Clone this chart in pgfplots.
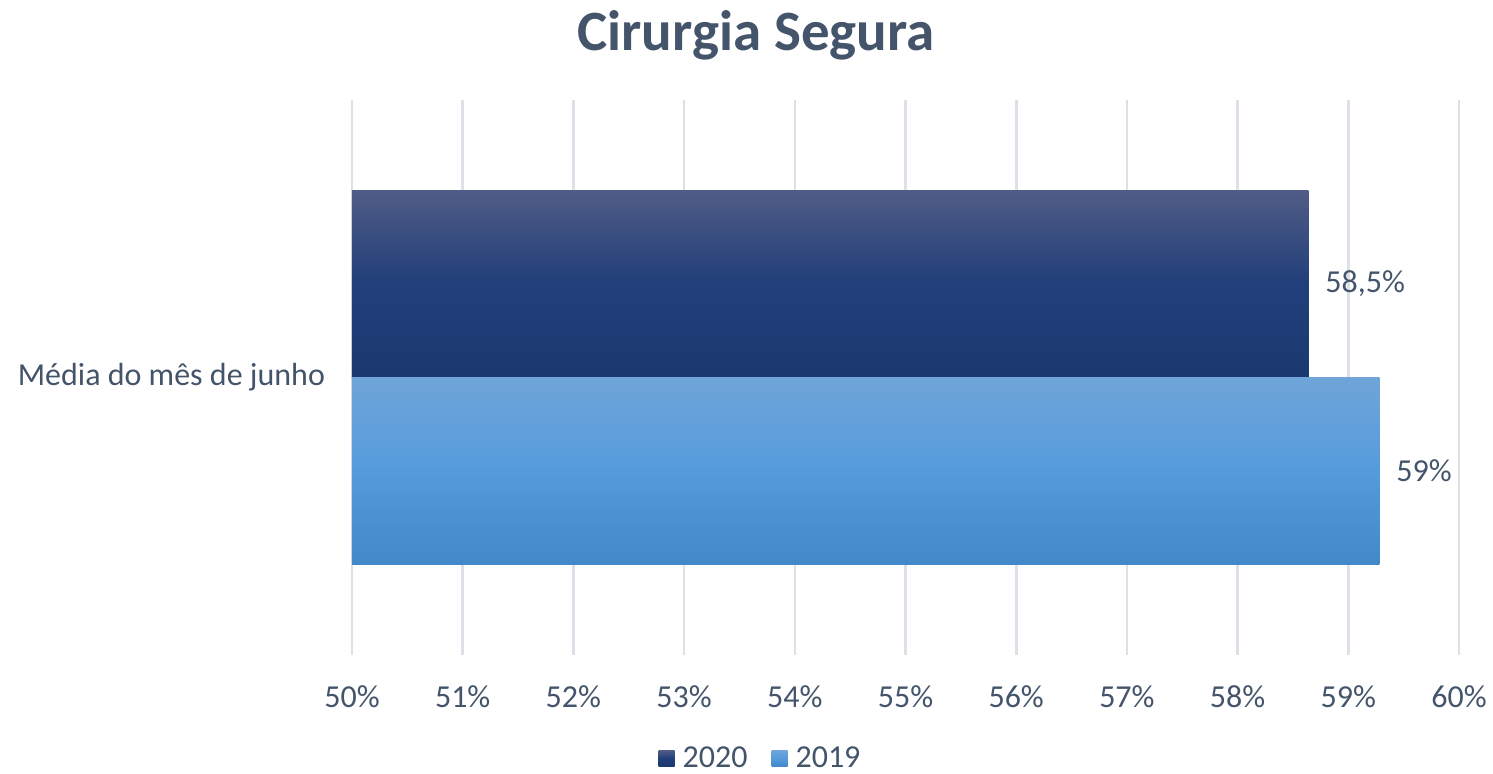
\documentclass[border=0pt]{standalone}
\usepackage{pgfplots}
\pgfplotsset{compat=1.18}
\usepackage{fontspec}
\setmainfont{Carlito}
\usetikzlibrary{calc}
\definecolor{txt}{HTML}{44546A}
\definecolor{grd}{HTML}{DDE1E7}
\definecolor{dT}{HTML}{505C86}
\definecolor{dM}{HTML}{213F7A}
\definecolor{dB}{HTML}{1B3970}
\definecolor{lT}{HTML}{6FA5D9}
\definecolor{lM}{HTML}{559BDC}
\definecolor{lB}{HTML}{4388C8}
\begin{document}
\begin{tikzpicture}
\begin{axis}[
  scale only axis,
  width=553.5bp, height=277.5bp,
  xmin=50, xmax=60, ymin=-1, ymax=1,
  xtick={50,51,...,60},
  xticklabel={\pgfmathprintnumber[assume math mode=true]{\tick}\%},
  ytick={0}, yticklabels={Média do mês de junho},
  xmajorgrids, ymajorgrids=false,
  major grid style={draw=grd, line width=1.3bp},
  axis line style={draw=none},
  major tick length=0pt,
  tick label style={font=\fontsize{16bp}{19bp}\selectfont, text=txt},
  xticklabel style={yshift=-12bp},
  yticklabel style={xshift=-10bp},
  legend style={at={(rel axis cs:0.37,-0.186)}, anchor=center, draw=none, fill=none,
    legend columns=2, font=\fontsize{16bp}{19bp}\selectfont, text=txt,
    /tikz/every odd column/.append style={column sep=2bp},
    /tikz/every even column/.append style={column sep=10bp}},
  legend image code/.code={\path[#1, draw=none] (0bp,-4bp) rectangle (8bp,4bp);},
  nodes near coords style={font=\fontsize{16bp}{19bp}\selectfont, text=txt, anchor=west, xshift=5bp},
]
\addplot[xbar, bar width=93.5bp, bar shift=46.75bp, draw=none,
  top color=dT, bottom color=dB, middle color=dM,
  every node near coord/.append style={yshift=46.75bp},
  nodes near coords={58,5\%}]
  coordinates {(58.64,0)};
\addlegendentry{2020}
\addplot[xbar, bar width=93.5bp, bar shift=-46.75bp, draw=none,
  top color=lT, bottom color=lB, middle color=lM,
  every node near coord/.append style={yshift=-46.75bp},
  nodes near coords={59\%}]
  coordinates {(59.28,0)};
\addlegendentry{2019}
\coordinate (SW) at (rel axis cs:0,0);
\coordinate (TT) at (rel axis cs:0.365,1.117);
\end{axis}
\node[font=\fontsize{28.5bp}{34bp}\selectfont\bfseries, text=txt] at (TT) {Cirurgia Segura};
\pgfresetboundingbox
\useasboundingbox ($(SW)+(-176bp,-59.5bp)$) rectangle ++(746.5bp,387bp);
\end{tikzpicture}
\end{document}
